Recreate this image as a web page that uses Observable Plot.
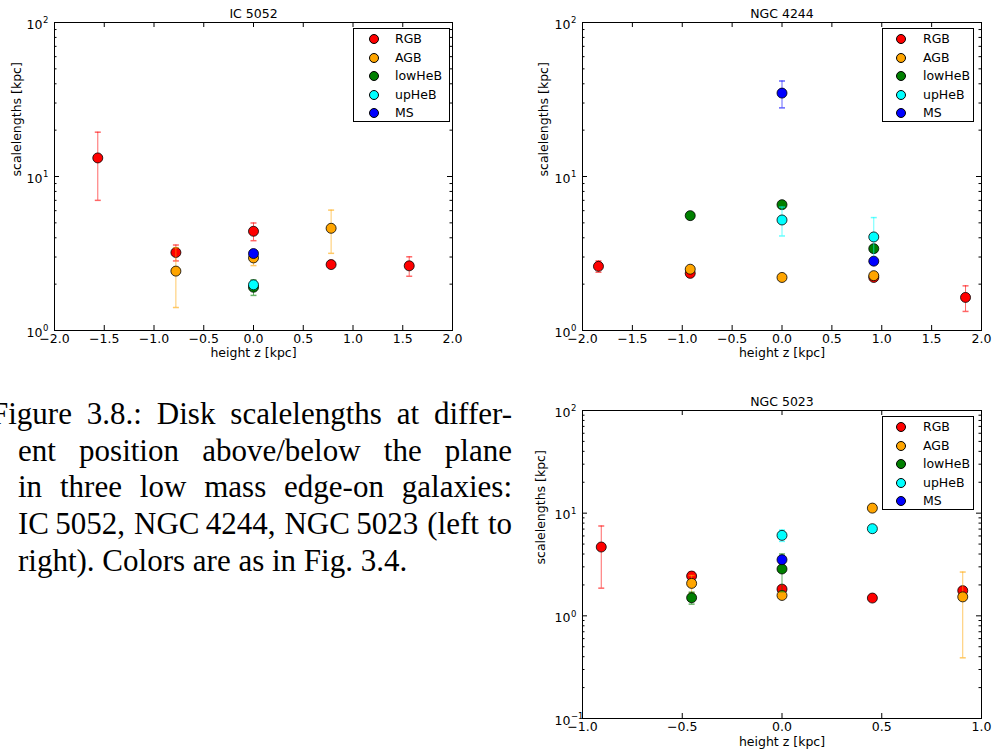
<!DOCTYPE html>
<html><head><meta charset="utf-8">
<script src="https://cdn.jsdelivr.net/npm/d3@7"></script>
<script src="https://cdn.jsdelivr.net/npm/@observablehq/plot@0.6"></script>
<style>
body{margin:0;background:#fff;}
#page{position:relative;width:995px;height:754px;overflow:hidden;background:#fff;font-family:"DejaVu Sans";}
.panel{position:absolute;}
.panel svg{overflow:visible;}
.legend{position:absolute;border:1px solid #000;background:#fff;box-sizing:border-box;font:12.5px "DejaVu Sans";color:#000;}
.legend .row{position:absolute;height:18px;line-height:18px;white-space:nowrap;}
.legend .mk{position:absolute;width:10px;height:10px;border-radius:50%;border:1px solid #000;box-sizing:border-box;top:4px;}
#caption{position:absolute;left:-9px;top:396px;width:521px;font-family:"Liberation Serif";font-size:31px;line-height:36.7px;color:#000;}
#caption .ln{text-align:justify;text-align-last:justify;}
#caption .ln.ind{padding-left:27px;}
#caption .ln.last{text-align-last:left;}
</style></head><body><div id="page"></div>
<script>
// ---- series definitions ----
const populations = ["RGB", "AGB", "lowHeB", "upHeB", "MS"];
const popColors = ["#ff0000", "#ffa500", "#008000", "#00ffff", "#0000ff"];

// IC 5052
const ic5052Pop = ["RGB", "RGB", "AGB", "RGB", "MS", "AGB", "lowHeB", "upHeB", "AGB", "RGB", "RGB"];
const ic5052Z   = [-1.565, -0.78, -0.78, 0, 0, 0, 0, 0, 0.78, 0.78, 1.565];
const ic5052H   = [13.2, 3.21, 2.43, 4.41, 3.16, 2.96, 1.91, 1.98, 4.61, 2.68, 2.63];
const ic5052Err = [6.2, 0.38, 1.02, 0.58, 0.08, 0.32, 0.22, 0.12, 1.44, 0.14, 0.38];

// NGC 4244
const ngc4244Pop = ["RGB", "RGB", "AGB", "lowHeB", "AGB", "lowHeB", "upHeB", "MS", "RGB", "AGB", "MS", "lowHeB", "upHeB", "RGB"];
const ngc4244Z   = [-1.84, -0.92, -0.92, -0.92, 0, 0, 0, 0, 0.92, 0.92, 0.92, 0.92, 0.92, 1.84];
const ngc4244H   = [2.61, 2.35, 2.50, 5.57, 2.21, 6.56, 5.22, 34.8, 2.21, 2.27, 2.82, 3.40, 4.05, 1.64];
const ngc4244Err = [0.22, 0.08, 0.08, 0.1, 0.05, 0.1, 1.11, 6.9, 0.05, 0.08, 0.1, 0.1, 1.36, 0.31];

// NGC 5023
const ngc5023Pop = ["RGB", "RGB", "AGB", "lowHeB", "upHeB", "MS", "lowHeB", "RGB", "AGB", "AGB", "upHeB", "RGB", "RGB", "AGB"];
const ngc5023Z   = [-0.906, -0.453, -0.453, -0.453, 0, 0, 0, 0, 0, 0.453, 0.453, 0.453, 0.906, 0.906];
const ngc5023H   = [4.68, 2.44, 2.07, 1.50, 6.08, 3.52, 2.86, 1.82, 1.58, 11.2, 7.06, 1.49, 1.76, 1.53];
const ngc5023Err = [2.82, 0.23, 0.4, 0.2, 0.77, 0.1, 1.14, 0.1, 0.05, 0.3, 0.2, 0.05, 0.13, 1.14];

// axes
const xTicksWide   = [-2, -1.5, -1, -0.5, 0, 0.5, 1, 1.5, 2];
const xTicksNarrow = [-1, -0.5, 0, 0.5, 1];
const yMajor12  = [1, 10, 100];
const yMajor5023 = [0.1, 1, 10, 100];
const titles = ["IC 5052", "NGC 4244", "NGC 5023"];
const xLabel = "height z [kpc]";
const yLabel = "scalelengths [kpc]";

const captionLines = [
  "Figure 3.8.: Disk scalelengths at differ-",
  "ent position above/below the plane",
  "in three low mass edge-on galaxies:",
  "IC\u20095052, NGC\u20094244, NGC\u20095023 (left to",
  "right). Colors are as in Fig. 3.4."
];

// ---- drawing ----
const FS = 12.5;
const page = document.getElementById("page");
const capSymbol = {draw(ctx, size) { const w = Math.sqrt(size / Math.PI); ctx.moveTo(-w, 0); ctx.lineTo(w, 0); }};
const fmtX = d => (d < 0 ? "\u2212" : "") + Math.abs(d).toFixed(1);
const expStr = d => { const e = Math.round(Math.log10(d)); return (e < 0 ? "\u2212" : "") + Math.abs(e); };

function makePanel(cfg) {
  const {title, pop, z, h, err, xDomain, xTicks, yMajor, left, top, width, height, ml, mr, mt, mb, yLabelDx, xLabelDy, titleDy, legend} = cfg;
  const fw = width - ml - mr, fh = height - mt - mb;
  const rows = pop.map((p, i) => ({pop: p, z: z[i], h: h[i], e: err[i]}));
  const yMinor = [];
  for (let k = 0; k < yMajor.length - 1; k++) for (let m = 2; m <= 9; m++) yMinor.push(+(m * yMajor[k]).toPrecision(3));
  const marks = [
    Plot.tickX(xTicks, {x: d => d, insetTop: fh - 5, stroke: "#000"}),
    Plot.tickX(xTicks, {x: d => d, insetBottom: fh - 5, stroke: "#000"}),
    Plot.tickY(yMajor, {y: d => d, insetRight: fw - 5, stroke: "#000"}),
    Plot.tickY(yMajor, {y: d => d, insetLeft: fw - 5, stroke: "#000"}),
    Plot.tickY(yMinor, {y: d => d, insetRight: fw - 2.5, stroke: "#000"}),
    Plot.tickY(yMinor, {y: d => d, insetLeft: fw - 2.5, stroke: "#000"}),
    Plot.axisX({ticks: xTicks, tickFormat: fmtX, tickSize: 0, tickPadding: 4, fontSize: FS, label: null}),
    Plot.text(yMajor, {y: d => d, frameAnchor: "left", textAnchor: "end", lineAnchor: "middle", dx: -12, dy: 2, fontSize: FS, text: () => "10"}),
    Plot.text(yMajor, {y: d => d, frameAnchor: "left", textAnchor: "start", lineAnchor: "middle", dx: -11.5, dy: -2, fontSize: 8.5, text: expStr}),
    Plot.text([title], {frameAnchor: "top", lineAnchor: "middle", dy: titleDy, fontSize: FS, text: d => d}),
    Plot.text([xLabel], {frameAnchor: "bottom", lineAnchor: "middle", dy: xLabelDy, fontSize: FS, text: d => d}),
    Plot.text([yLabel], {frameAnchor: "left", lineAnchor: "middle", dx: yLabelDx, rotate: -90, fontSize: FS, text: d => d})
  ];
  populations.forEach((p, i) => {
    const sub = rows.filter(r => r.pop === p);
    const c = popColors[i];
    marks.push(
      Plot.ruleX(sub, {x: "z", y1: d => d.h - d.e, y2: d => d.h + d.e, stroke: c, strokeOpacity: 0.6, strokeWidth: 1}),
      Plot.dot(sub, {x: "z", y: d => d.h + d.e, symbol: capSymbol, r: 3, fill: "none", stroke: c, strokeOpacity: 0.6}),
      Plot.dot(sub, {x: "z", y: d => d.h - d.e, symbol: capSymbol, r: 3, fill: "none", stroke: c, strokeOpacity: 0.6}),
      Plot.dot(sub, {x: "z", y: "h", r: 5, fill: c, stroke: "#000", strokeWidth: 0.8})
    );
  });
  marks.push(Plot.frame({stroke: "#000", strokeWidth: 1}));
  const chart = Plot.plot({
    width, height, marginLeft: ml, marginRight: mr, marginTop: mt, marginBottom: mb,
    style: {fontFamily: "DejaVu Sans", fontSize: FS + "px", background: "transparent", color: "#000"},
    x: {domain: xDomain, axis: null},
    y: {type: "log", domain: [yMajor[0], yMajor[yMajor.length - 1]], axis: null},
    marks
  });
  const wrap = document.createElement("div");
  wrap.className = "panel";
  wrap.style.left = left + "px"; wrap.style.top = top + "px";
  wrap.appendChild(chart);
  page.appendChild(wrap);
  // legend
  const lg = document.createElement("div");
  lg.className = "legend";
  Object.assign(lg.style, {left: legend.left + "px", top: legend.top + "px", width: legend.w + "px", height: legend.h + "px"});
  populations.forEach((p, i) => {
    const row = document.createElement("div");
    row.className = "row";
    row.style.top = (legend.row0 - 9 + i * 18.5) + "px";
    row.style.left = "0px";
    const mk = document.createElement("span");
    mk.className = "mk";
    mk.style.left = (legend.mx - 5) + "px";
    mk.style.background = popColors[i];
    const tx = document.createElement("span");
    tx.style.position = "absolute";
    tx.style.left = legend.tx + "px";
    tx.textContent = p;
    row.appendChild(mk); row.appendChild(tx);
    lg.appendChild(row);
  });
  page.appendChild(lg);
}

makePanel({title: titles[0], pop: ic5052Pop, z: ic5052Z, h: ic5052H, err: ic5052Err,
  xDomain: [-2, 2], xTicks: xTicksWide, yMajor: yMajor12,
  left: 0, top: 0, width: 470, height: 360, ml: 54, mr: 18, mt: 22, mb: 30,
  yLabelDx: -38, xLabelDy: 22, titleDy: -9,
  legend: {left: 353, top: 28, w: 97, h: 94, row0: 10, mx: 20, tx: 41}});

makePanel({title: titles[1], pop: ngc4244Pop, z: ngc4244Z, h: ngc4244H, err: ngc4244Err,
  xDomain: [-2, 2], xTicks: xTicksWide, yMajor: yMajor12,
  left: 520, top: 0, width: 475, height: 360, ml: 62, mr: 14, mt: 22, mb: 30,
  yLabelDx: -39, xLabelDy: 22, titleDy: -9,
  legend: {left: 882, top: 28, w: 92, h: 94, row0: 10, mx: 18, tx: 40}});

makePanel({title: titles[2], pop: ngc5023Pop, z: ngc5023Z, h: ngc5023H, err: ngc5023Err,
  xDomain: [-1, 1], xTicks: xTicksNarrow, yMajor: yMajor5023,
  left: 520, top: 390, width: 475, height: 364, ml: 62, mr: 14, mt: 20, mb: 36,
  yLabelDx: -42, xLabelDy: 23, titleDy: -9,
  legend: {left: 882, top: 416, w: 92, h: 94, row0: 10, mx: 18, tx: 40}});

// caption
const cap = document.createElement("div");
cap.id = "caption";
captionLines.forEach((t, i) => {
  const d = document.createElement("div");
  d.className = "ln" + (i > 0 ? " ind" : "") + (i === captionLines.length - 1 ? " last" : "");
  d.textContent = t;
  cap.appendChild(d);
});
page.appendChild(cap);
</script>
</body></html>
